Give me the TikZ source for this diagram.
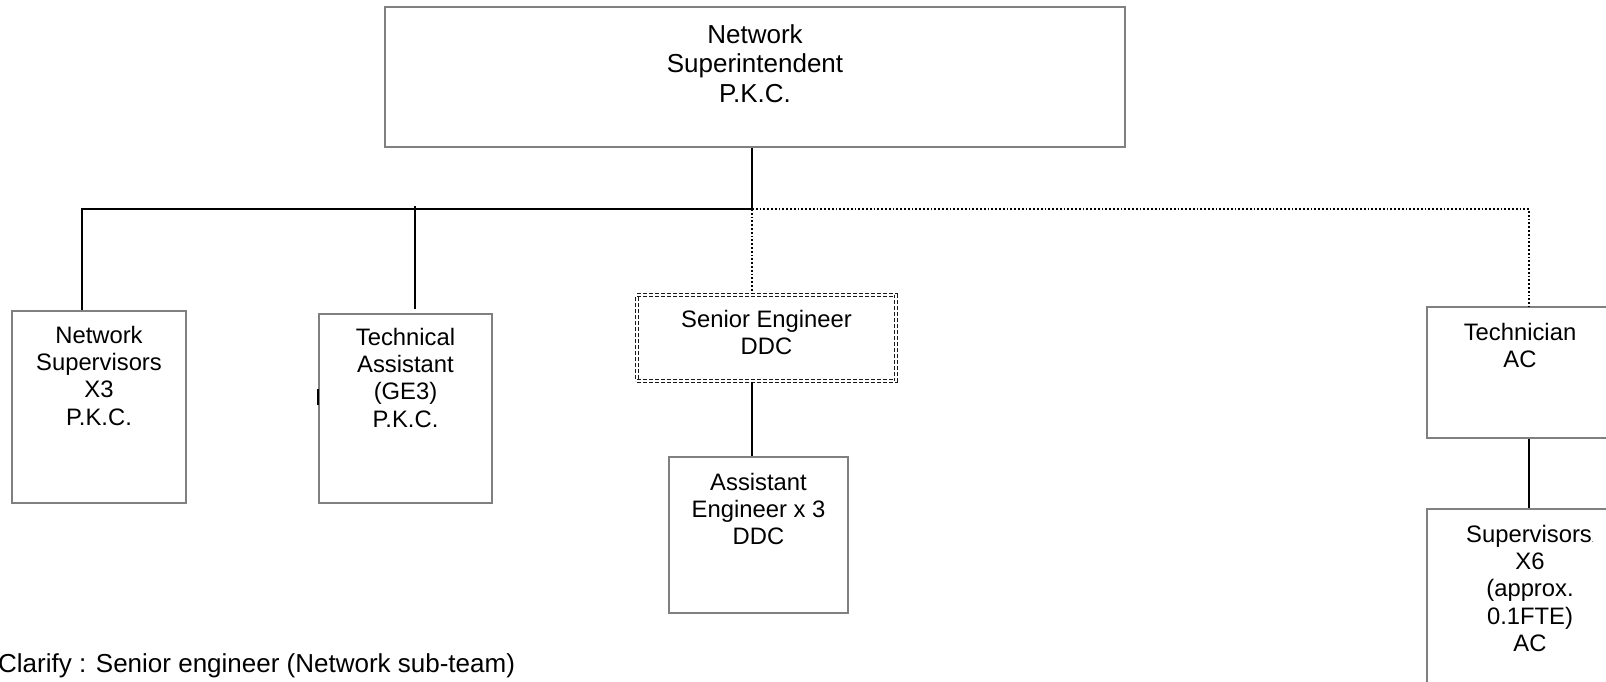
\documentclass[tikz,border=0pt]{standalone}
\usepackage{fontspec}
\setmainfont{Liberation Sans}
\usetikzlibrary{calc}
\definecolor{boxgray}{RGB}{128,128,128}
\newcommand{\bigtext}{\fontsize{26}{29.5}\selectfont}
\newcommand{\smalltext}{\fontsize{23.8}{27.4}\selectfont}
% width, height, first baseline, lines
\newcommand{\rolebox}[4]{\parbox[c][#2][t]{#1}{\centering\rule{0pt}{#3}#4\par}}
\tikzstyle{role}=[rectangle,draw=boxgray,line width=1.6pt,inner sep=0pt,font=\smalltext]
\tikzstyle{senior}=[rectangle,draw=black!90,line width=1.1pt,double,double distance=2pt,dash pattern=on 4pt off 2pt,inner sep=0pt,font=\smalltext]
\tikzstyle{link}=[black,line width=1.8pt]
\tikzstyle{dotlink}=[black,line width=1.7pt,dash pattern=on 1.7pt off 2.1pt]

\begin{document}
\begin{tikzpicture}[x=1pt,y=-1pt]
	\useasboundingbox (0,0) rectangle (1606,681);
	\node[role,font=\bigtext] (super) at (755,77) {\rolebox{740pt}{140pt}{36pt}{Network\\Superintendent\\P.K.C.}};
	\node[role] (netsup) at (99,407) {\rolebox{174pt}{192pt}{32pt}{Network\\Supervisors\\X3\\P.K.C.}};
	\node[role] (techasst) at (405.5,408.5) {\rolebox{173pt}{189pt}{31pt}{Technical\\Assistant\\(GE3)\\P.K.C.}};
	\node[senior] (senior) at (766.5,338) {\rolebox{259pt}{86pt}{32pt}{Senior Engineer\\DDC}};
	\node[role] (asseng) at (758.5,535) {\rolebox{179pt}{156pt}{33pt}{Assistant\\Engineer x 3\\DDC}};
	\node[role] (tech) at (1520,372.5) {\rolebox{186pt}{131pt}{33pt}{Technician\\AC}};
	\node[role] (supers) at (1530,600) {\rolebox{206pt}{182pt}{33pt}{Supervisors{\scriptsize .}\\X6\\(approx.\\0.1FTE)\\AC}};
	\node[anchor=base west,font=\bigtext,inner sep=0pt] (note) at (-2,672) {Clarify : Senior engineer (Network sub-team)};
	
	\coordinate (hub) at (752,209);
	\coordinate (busleft) at (82,209);
	\coordinate (busright) at (1529,209);
	\coordinate (tatop) at (415,206);
	
	\draw[link] (super.south -| hub) -- (hub);
	\draw[link] (hub) -- (busleft) -- (netsup.north -| busleft);
	\draw[link] (tatop) -- ($(techasst.north -| tatop)+(0,-4)$);
	\draw[dotlink] (hub) -- (senior.north -| hub);
	\draw[dotlink] (hub) -- (busright) -- (tech.north -| busright);
	\draw[link] (senior.south -| hub) -- (asseng.north -| hub);
	\draw[link] (tech.south -| busright) -- (supers.north -| busright);
	\draw[black,line width=2pt] (318,389) -- (318,405);
\end{tikzpicture}
\end{document}
